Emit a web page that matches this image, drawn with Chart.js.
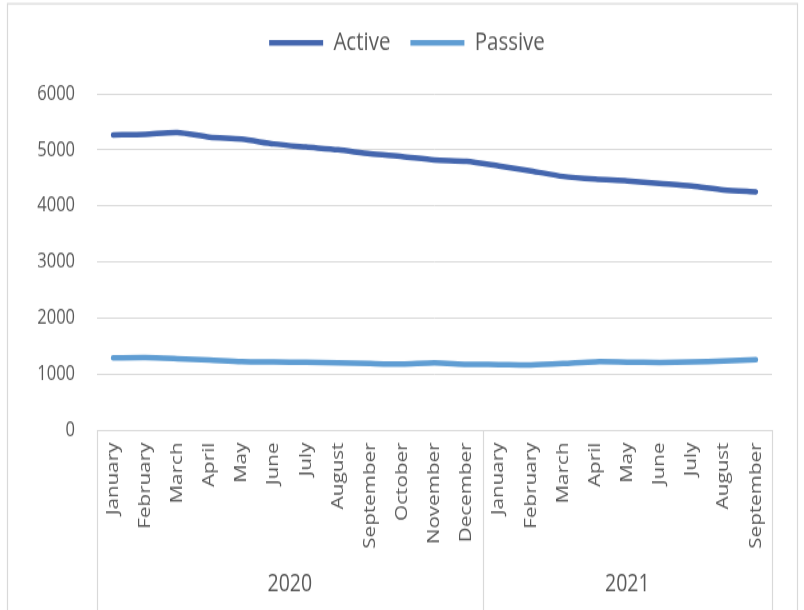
<!DOCTYPE html>
<html>
<head>
<meta charset="utf-8">
<script src="https://cdn.jsdelivr.net/npm/chart.js@4/dist/chart.umd.min.js"></script>
<style>
  html, body { margin: 0; padding: 0; background: #fff; }
  #page { width: 804px; height: 610px; overflow: hidden; position: relative; }
  /* la imagen original está estirada en vertical */
  #wrap { position: absolute; left: 0; top: 0; width: 804px; height: 488px; transform: scale(1, 1.25); transform-origin: 0 0; }
</style>
</head>
<body>
<div id="page"><div id="wrap"><canvas id="lineChart" width="804" height="488"></canvas></div></div>
<script>
// Datos del gráfico
const months2020 = ["January", "February", "March", "April", "May", "June", "July", "August", "September", "October", "November", "December"];
const months2021 = ["January", "February", "March", "April", "May", "June", "July", "August", "September"];
const years = ["2020", "2021"];
const activeValues = [5265, 5275, 5310, 5225, 5190, 5105, 5050, 5000, 4930, 4880, 4820, 4795, 4712, 4625, 4525, 4475, 4445, 4400, 4355, 4285, 4250];
const passiveValues = [1286, 1292, 1274, 1250, 1222, 1214, 1208, 1200, 1185, 1176, 1198, 1172, 1168, 1162, 1185, 1218, 1212, 1206, 1215, 1232, 1252];
const yTicks = [0, 1000, 2000, 3000, 4000, 5000, 6000];

const textColor = "#595959";
const lineGray = "#d9d9d9";

document.addEventListener("DOMContentLoaded", function () {
  const labels = months2020.concat(months2021);

  // Marco exterior del gráfico
  const framePlugin = {
    id: "frame",
    beforeDraw(chart) {
      const ctx = chart.ctx;
      ctx.save();
      ctx.fillStyle = "#fff";
      ctx.fillRect(0, 0, chart.width, chart.height);
      ctx.strokeStyle = lineGray;
      ctx.lineWidth = 1.2;
      ctx.strokeRect(7.5, 3, 790, 600);
      ctx.restore();
    },
  };

  // Espacio extra bajo la leyenda y leyenda algo desplazada a la derecha
  const legendGap = {
    id: "legendGap",
    beforeInit(chart) {
      const fit = chart.legend.fit;
      chart.legend.fit = function () {
        fit.bind(chart.legend)();
        this.height += 20.5;
      };
    },
    afterLayout(chart) {
      chart.legend.left += 42;
    },
  };

  // Eje de categorías con años (separadores y etiquetas)
  const yearAxis = {
    id: "yearAxis",
    afterDraw(chart) {
      const ctx = chart.ctx;
      const x = chart.scales.x;
      const area = chart.chartArea;
      const n = months2020.length;
      const split = (x.getPixelForValue(n - 1) + x.getPixelForValue(n)) / 2;
      const edges = [area.left, split, area.right];

      ctx.save();
      ctx.strokeStyle = lineGray;
      ctx.lineWidth = 1.2;
      edges.forEach((px) => {
        ctx.beginPath();
        ctx.moveTo(Math.round(px) + 0.5, area.bottom);
        ctx.lineTo(Math.round(px) + 0.5, chart.height);
        ctx.stroke();
      });

      ctx.fillStyle = textColor;
      ctx.font = "19.5px 'Open Sans'";
      ctx.textAlign = "center";
      ctx.textBaseline = "middle";
      years.forEach((year, i) => {
        ctx.fillText(year, (edges[i] + edges[i + 1]) / 2, 467);
      });
      ctx.restore();
    },
  };

  new Chart(document.getElementById("lineChart"), {
    type: "line",
    data: {
      labels: labels,
      datasets: [
        {
          label: "Active",
          data: activeValues,
          borderColor: "#4466ae",
          backgroundColor: "#4466ae",
          borderWidth: 4.5,
          borderCapStyle: "round",
          borderJoinStyle: "round",
          pointRadius: 0,
          tension: 0.25,
        },
        {
          label: "Passive",
          data: passiveValues,
          borderColor: "#5f9dd3",
          backgroundColor: "#5f9dd3",
          borderWidth: 4.5,
          borderCapStyle: "round",
          borderJoinStyle: "round",
          pointRadius: 0,
          tension: 0.25,
        },
      ],
    },
    options: {
      responsive: false,
      animation: false,
      layout: { padding: { top: 4, left: 0, right: 32, bottom: 0 } },
      plugins: {
        tooltip: { enabled: false },
        legend: {
          position: "top",
          labels: {
            usePointStyle: true,
            pointStyle: "line",
            pointStyleWidth: 54,
            padding: 20,
            color: textColor,
            font: { family: "'Open Sans'", size: 20.5 },
          },
        },
      },
      scales: {
        x: {
          offset: true,
          grid: { display: false, drawTicks: false },
          border: { display: true, color: lineGray },
          ticks: {
            autoSkip: false,
            minRotation: 90,
            maxRotation: 90,
            padding: 10,
            color: textColor,
            font: { family: "'Open Sans'", size: 16.5 },
          },
          afterFit(scale) {
            scale.height = 144;
          },
        },
        y: {
          min: yTicks[0],
          max: yTicks[yTicks.length - 1],
          grid: { color: lineGray, drawTicks: false },
          border: { display: false },
          afterBuildTicks(scale) {
            scale.ticks = yTicks.map((v) => ({ value: v }));
          },
          ticks: {
            padding: 22,
            color: textColor,
            font: { family: "'Open Sans'", size: 16.5 },
            callback: (value) => String(value),
          },
          afterFit(scale) {
            scale.width = 97;
          },
        },
      },
    },
    plugins: [framePlugin, legendGap, yearAxis],
  });
});
</script>
</body>
</html>
